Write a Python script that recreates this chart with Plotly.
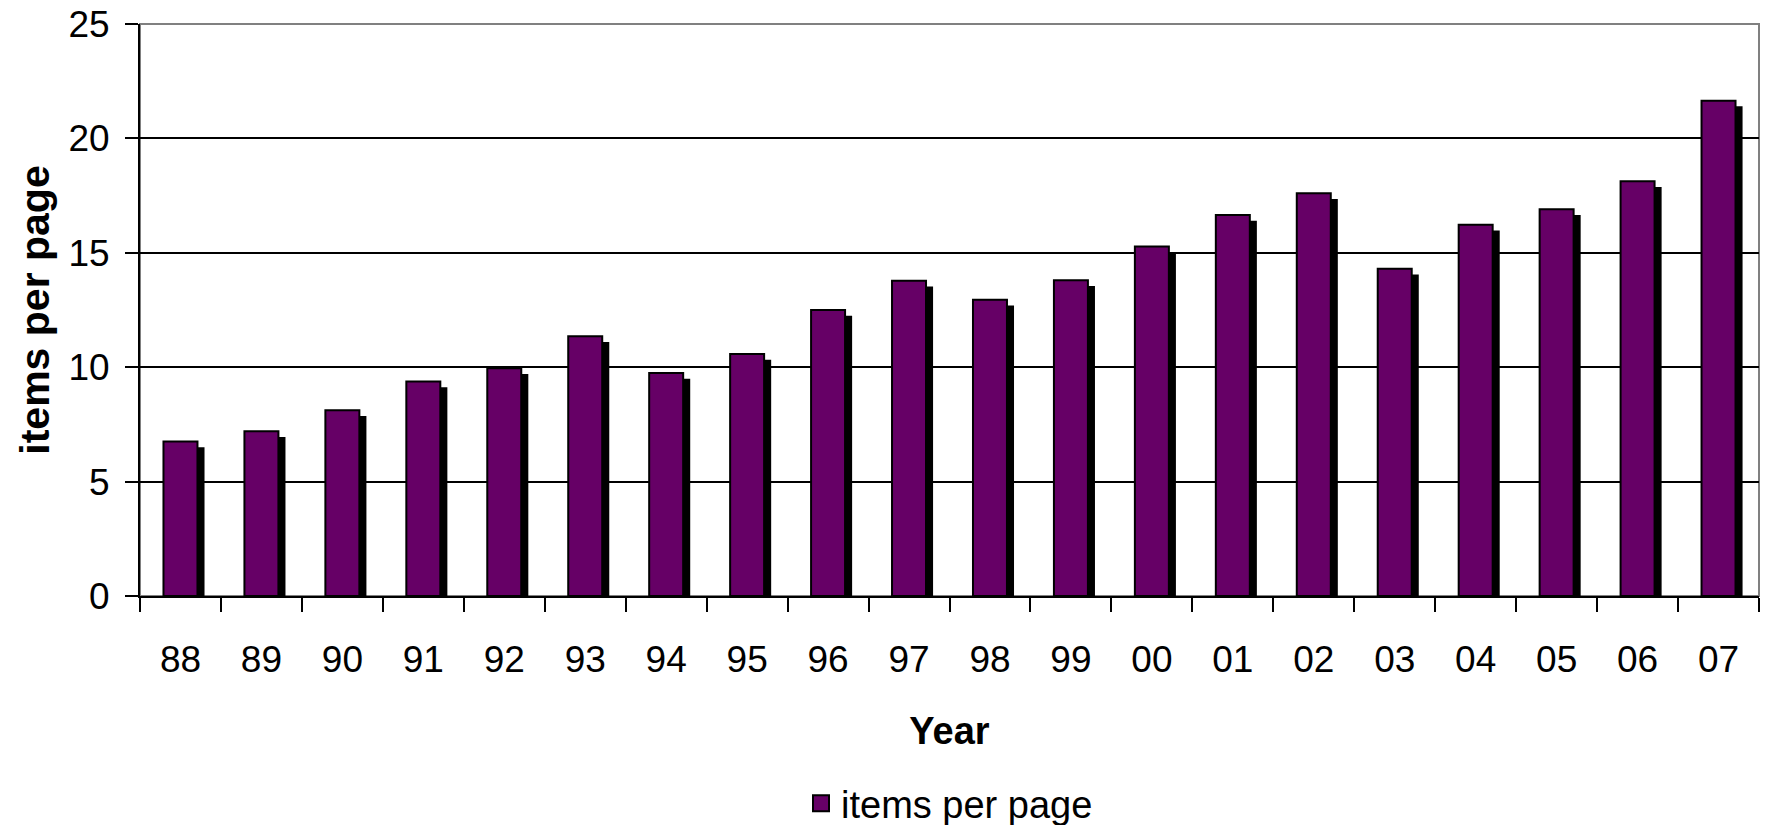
import plotly.graph_objects as go

years = ["88", "89", "90", "91", "92", "93", "94", "95", "96", "97",
         "98", "99", "00", "01", "02", "03", "04", "05", "06", "07"]
items_per_page = [6.75, 7.2, 8.12, 9.37, 9.95, 11.35, 9.75, 10.58, 12.5, 13.78,
                  12.95, 13.8, 15.28, 16.65, 17.6, 14.3, 16.23, 16.9, 18.13, 21.65]
y_ticks = [0, 5, 10, 15, 20, 25]

FONT = "Liberation Sans, Arial, sans-serif"
PURPLE = "#660066"
BAR_W = 0.42
SHADOW_DX = 0.087
SHADOW_DY = 0.25

fig = go.Figure()
# drop shadow
fig.add_trace(go.Bar(
    x=years, y=[v - SHADOW_DY for v in items_per_page],
    width=BAR_W, offset=-BAR_W / 2 + SHADOW_DX,
    marker=dict(color="black", line=dict(width=0)),
    showlegend=False, hoverinfo="skip",
))
# main bars
fig.add_trace(go.Bar(
    x=years, y=items_per_page, name="items per page",
    width=BAR_W, offset=-BAR_W / 2,
    marker=dict(color=PURPLE, line=dict(color="black", width=2)),
    showlegend=False,
))
# legend entry
fig.add_trace(go.Scatter(
    x=[None], y=[None], mode="markers", name="items per page",
    marker=dict(symbol="square", size=16, color=PURPLE, line=dict(color="black", width=2)),
))

fig.update_layout(
    width=1769, height=825,
    margin=dict(l=140, r=10, t=24, b=229, autoexpand=False),
    paper_bgcolor="white", plot_bgcolor="white",
    barmode="overlay",
    font=dict(family=FONT, size=37, color="black"),
    legend=dict(orientation="h", x=0.5, xanchor="center", y=-0.363, yanchor="middle",
                font=dict(size=38), itemsizing="trace", bgcolor="rgba(0,0,0,0)"),
    shapes=[dict(type="rect", xref="paper", yref="paper", x0=0, x1=1, y0=0, y1=1,
                 line=dict(color="#808080", width=2), layer="below")],
)
fig.update_xaxes(
    type="category", showline=True, linecolor="black", linewidth=2,
    ticks="outside", tickson="boundaries", ticklen=14, tickwidth=2, tickcolor="black",
    showgrid=False, tickfont=dict(size=37), ticklabelstandoff=30,
    title=dict(text="Year", font=dict(size=38, weight="bold"), standoff=38),
)
fig.update_yaxes(
    range=[0, 25], tickvals=y_ticks, showline=True, linecolor="black", linewidth=2,
    ticks="outside", ticklen=13, tickwidth=2, tickcolor="black",
    showgrid=True, gridcolor="black", gridwidth=2, zeroline=False,
    tickfont=dict(size=37), ticklabelstandoff=8,
    title=dict(text="items per page", font=dict(size=41, weight="bold"), standoff=6),
)

fig.write_html("out.html")
